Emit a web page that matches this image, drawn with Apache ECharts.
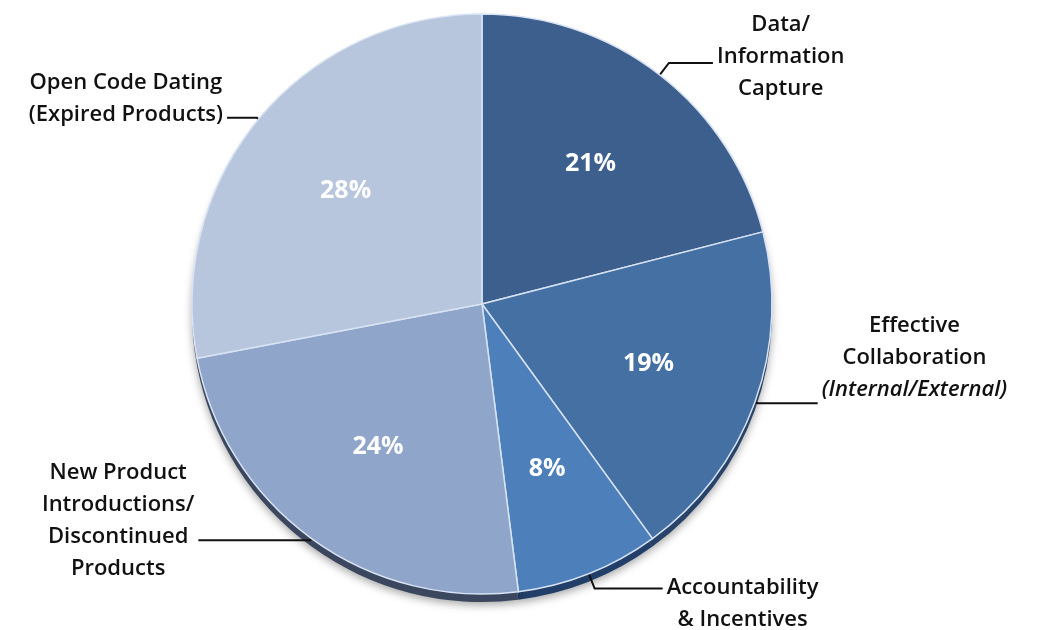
<!DOCTYPE html>
<html>
<head>
<meta charset="utf-8">
<style>
  html, body { margin: 0; padding: 0; background: #ffffff; }
  #chart { width: 1042px; height: 630px; }
</style>
<script src="https://cdn.jsdelivr.net/npm/echarts@6/dist/echarts.min.js"></script>
</head>
<body>
<div id="chart"></div>
<script>
// Share of responses per improvement area (percent)
const categories = [
  'Data/\nInformation\nCapture',
  'Effective\nCollaboration',
  'Accountability\n& Incentives',
  'New Product\nIntroductions/\nDiscontinued\nProducts',
  'Open Code Dating\n(Expired Products)'
];
const notes = ['', '(Internal/External)', '', '', ''];
const values = [21, 19, 8, 24, 28];

const faceColors = ['#3d5f8e', '#4570a4', '#4d7fbb', '#8fa5c9', '#b8c6dd'];
const rimColors  = ['#23395a', '#27436a', '#213f69', '#3a475e', '#4a5670'];

// Per-slice placement of the outside captions
const lineLen  = [15, 3, 16, 2, 2];
const lineLen2 = [44, 60, 68, 112, 30];
const pads = [[0, 0, 12, 0], [0, 0, 92, 0], [30, 0, 0, 0], [0, 0, 38, 0], [0, 0, 38, 0]];

const CENTER = [482, 304];
const R = 290;
const FONT = '"Open Sans", "Liberation Sans", sans-serif';

function caption(i) {
  const lines = categories[i].split('\n').map(l => '{c|' + l + '}');
  if (notes[i]) lines.push('{i|' + notes[i] + '}');
  return lines.join('\n');
}

const chart = echarts.init(document.getElementById('chart'), null, { renderer: 'canvas' });

chart.setOption({
  backgroundColor: '#ffffff',
  animation: false,
  series: [
    // Dark rim underneath, gives the disc its thickness
    {
      type: 'pie',
      silent: true,
      center: [CENTER[0], CENTER[1] + 8],
      radius: R,
      startAngle: 90,
      clockwise: true,
      z: 1,
      label: { show: false },
      labelLine: { show: false },
      itemStyle: {
        borderWidth: 0,
        shadowColor: 'rgba(0,0,0,0.35)',
        shadowBlur: 8,
        shadowOffsetY: 3
      },
      data: values.map((v, i) => ({ value: v, name: categories[i], itemStyle: { color: rimColors[i] } }))
    },
    // Main face with outside captions
    {
      type: 'pie',
      silent: true,
      center: CENTER,
      radius: R,
      startAngle: 90,
      clockwise: true,
      avoidLabelOverlap: false,
      z: 2,
      itemStyle: { borderColor: '#d8e3f3', borderWidth: 1.5 },
      label: {
        show: true,
        position: 'outside',
        distanceToLabelLine: 4,
        color: '#111111',
        fontFamily: FONT,
        fontSize: 22,
        fontWeight: 600,
        lineHeight: 32,
        rich: {
          c: { align: 'center', color: '#111111', fontFamily: FONT, fontSize: 22, fontWeight: 600, lineHeight: 32 },
          i: { align: 'center', color: '#111111', fontFamily: FONT, fontSize: 22, fontWeight: 600, fontStyle: 'italic', lineHeight: 32 }
        }
      },
      labelLine: {
        show: true,
        lineStyle: { color: '#111111', width: 2 }
      },
      data: values.map((v, i) => ({
        value: v,
        name: categories[i],
        itemStyle: { color: faceColors[i] },
        label: { formatter: caption(i), padding: pads[i] },
        labelLine: { length: lineLen[i], length2: lineLen2[i] }
      }))
    },
    // Percent values inside the slices
    {
      type: 'pie',
      silent: true,
      center: CENTER,
      radius: [R * 0.4, R * 0.8],
      startAngle: 90,
      clockwise: true,
      z: 3,
      itemStyle: { color: 'rgba(0,0,0,0)', borderWidth: 0 },
      label: {
        show: true,
        position: 'inside',
        formatter: '{c}%',
        color: '#ffffff',
        fontFamily: FONT,
        fontSize: 25,
        fontWeight: 'bold'
      },
      labelLine: { show: false },
      data: values.map((v, i) => ({ value: v, name: categories[i] }))
    }
  ]
});
</script>
</body>
</html>
